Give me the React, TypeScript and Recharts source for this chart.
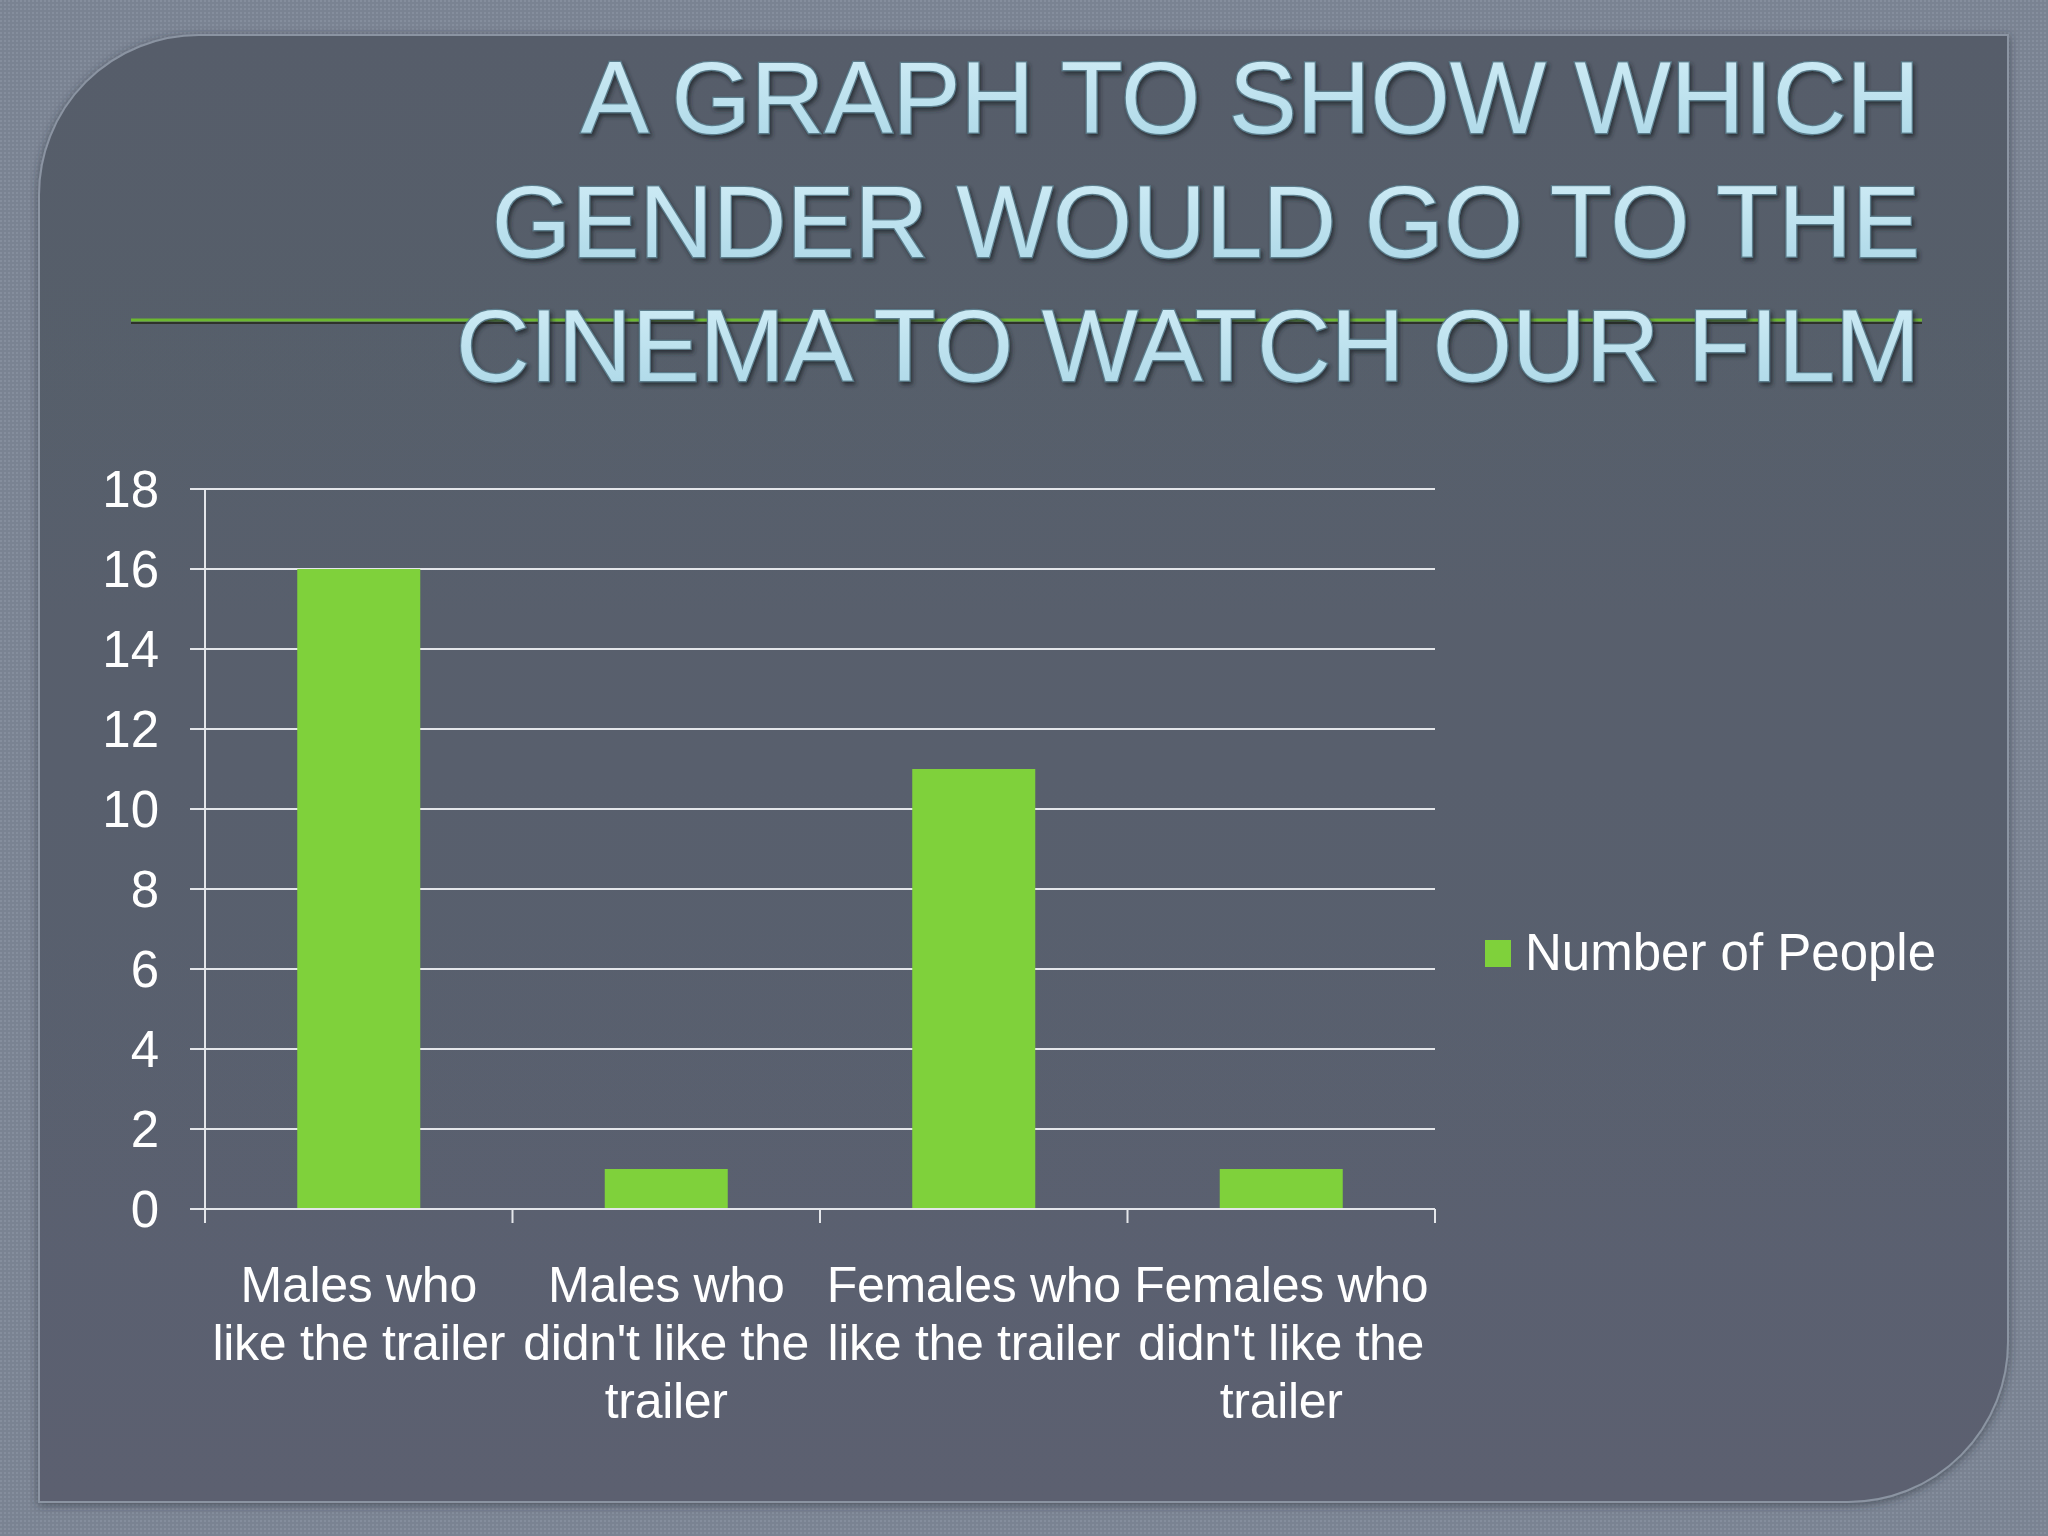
import React from "react";
import { BarChart, Bar, XAxis, YAxis, CartesianGrid, Legend } from "recharts";

const categories = [
  "Males who like the trailer",
  "Males who didn't like the trailer",
  "Females who like the trailer",
  "Females who didn't like the trailer",
];
const categoryLines = [
  ["Males who", "like the trailer"],
  ["Males who", "didn't like the", "trailer"],
  ["Females who", "like the trailer"],
  ["Females who", "didn't like the", "trailer"],
];
const numberOfPeople = [16, 1, 11, 1];
const yTicks = [0, 2, 4, 6, 8, 10, 12, 14, 16, 18];
const titleLines = [
  "A GRAPH TO SHOW WHICH",
  "GENDER WOULD GO TO THE",
  "CINEMA TO WATCH OUR FILM",
];
const seriesName = "Number of People";

const data = categories.map((c, i) => ({ category: c, people: numberOfPeople[i] }));

const FONT = "'Liberation Sans', Arial, sans-serif";
const BAR = "#7fd13b";
const GRID = "#e4e6ea";

function CategoryTick(props: any) {
  const { x, y, payload, index } = props;
  const half = payload?.offset ?? 153.75;
  const lines = categoryLines[index] || [String(payload.value)];
  return (
    <g>
      <line x1={x - half} x2={x - half} y1={y - 14} y2={y} stroke={GRID} strokeWidth={2} />
      {index === categories.length - 1 && (
        <line x1={x + half} x2={x + half} y1={y - 14} y2={y} stroke={GRID} strokeWidth={2} />
      )}
      {lines.map((l, i) => (
        <text
          key={i}
          x={x}
          y={y + 79 + i * 58}
          textAnchor="middle"
          fill="#ffffff"
          fontSize={50}
          fontFamily={FONT}
          letterSpacing={-0.3}
        >
          {l}
        </text>
      ))}
    </g>
  );
}

function LegendBox(props: any) {
  const item = props.payload && props.payload[0];
  return (
    <div style={{ display: "flex", alignItems: "center", fontFamily: FONT, whiteSpace: "nowrap" }}>
      <span style={{ display: "inline-block", width: 26, height: 27, background: item ? item.color : BAR, marginRight: 14 }} />
      <span style={{ color: "#ffffff", fontSize: 51, lineHeight: "60px" }}>{item ? item.value : seriesName}</span>
    </div>
  );
}

export default function App() {
  const panel = "M199,35 H2008 V1342 A160 160 0 0 1 1848,1502 H39 V195 A160 160 0 0 1 199,35 Z";
  return (
    <div style={{ position: "absolute", left: 0, top: 0, width: 2048, height: 1536, overflow: "hidden" }}>
      <svg width={2048} height={1536} style={{ position: "absolute", left: 0, top: 0 }}>
        <defs>
          <pattern id="dots" width="4" height="4" patternUnits="userSpaceOnUse">
            <rect width="4" height="4" fill="#7a8392" />
            <rect x="0" y="0" width="2" height="2" fill="#858e9d" />
          </pattern>
          <linearGradient id="panelFill" x1="0" y1="0" x2="0" y2="1">
            <stop offset="0" stopColor="#565d6a" />
            <stop offset="1" stopColor="#5b6170" />
          </linearGradient>
          <filter id="panelShadow" x="-5%" y="-5%" width="110%" height="110%">
            <feDropShadow dx="0" dy="2" stdDeviation="4" floodColor="#2e323a" floodOpacity="0.6" />
          </filter>
          <filter id="titleShadow" x="-5%" y="-20%" width="110%" height="140%">
            <feDropShadow dx="2" dy="3" stdDeviation="2" floodColor="#23262c" floodOpacity="0.8" />
          </filter>
          <linearGradient id="titleFill" x1="0" y1="0" x2="0" y2="1">
            <stop offset="0" stopColor="#d3eef7" />
            <stop offset="1" stopColor="#a9d6e6" />
          </linearGradient>
        </defs>
        <rect width={2048} height={1536} fill="url(#dots)" />
        <path d={panel} fill="url(#panelFill)" stroke="#8b94a2" strokeWidth={2} filter="url(#panelShadow)" />
        <line x1={131} x2={1922} y1={323} y2={323} stroke="#2e3229" strokeWidth={2} />
        <line x1={131} x2={1922} y1={320} y2={320} stroke="#6cb830" strokeWidth={3} />
        <g filter="url(#titleShadow)">
          {titleLines.map((t, i) => (
            <text
              key={i}
              x={1920}
              y={133 + i * 124}
              textAnchor="end"
              fontFamily={FONT}
              fontSize={102}
              fill="url(#titleFill)"
              stroke="#5b7d8c"
              strokeWidth={2.5}
              paintOrder="stroke"
            >
              {t}
            </text>
          ))}
        </g>
      </svg>
      <div style={{ position: "absolute", left: 0, top: 0 }}>
        <BarChart
          width={2048}
          height={1536}
          data={data}
          margin={{ top: 489, right: 613, bottom: 77, left: 0 }}
          barCategoryGap="30%"
        >
          <CartesianGrid horizontal vertical={false} stroke={GRID} strokeWidth={2} />
          <XAxis
            dataKey="category"
            height={250}
            interval={0}
            tickSize={14}
            tickMargin={0}
            tickLine={false}
            axisLine={{ stroke: GRID, strokeWidth: 2 }}
            tick={<CategoryTick />}
          />
          <YAxis
            width={205}
            domain={[0, 18]}
            ticks={yTicks}
            interval={0}
            tickSize={15}
            tickMargin={31}
            tickLine={{ stroke: GRID, strokeWidth: 2 }}
            axisLine={{ stroke: GRID, strokeWidth: 2 }}
            tick={{ fill: "#ffffff", fontSize: 51, fontFamily: FONT }}
          />
          <Legend
            layout="horizontal"
            verticalAlign="middle"
            align="center"
            wrapperStyle={{ left: 1485, top: 923, width: "auto", height: "auto" }}
            content={<LegendBox />}
          />
          <Bar dataKey="people" name={seriesName} fill={BAR} isAnimationActive={false} />
        </BarChart>
      </div>
    </div>
  );
}
